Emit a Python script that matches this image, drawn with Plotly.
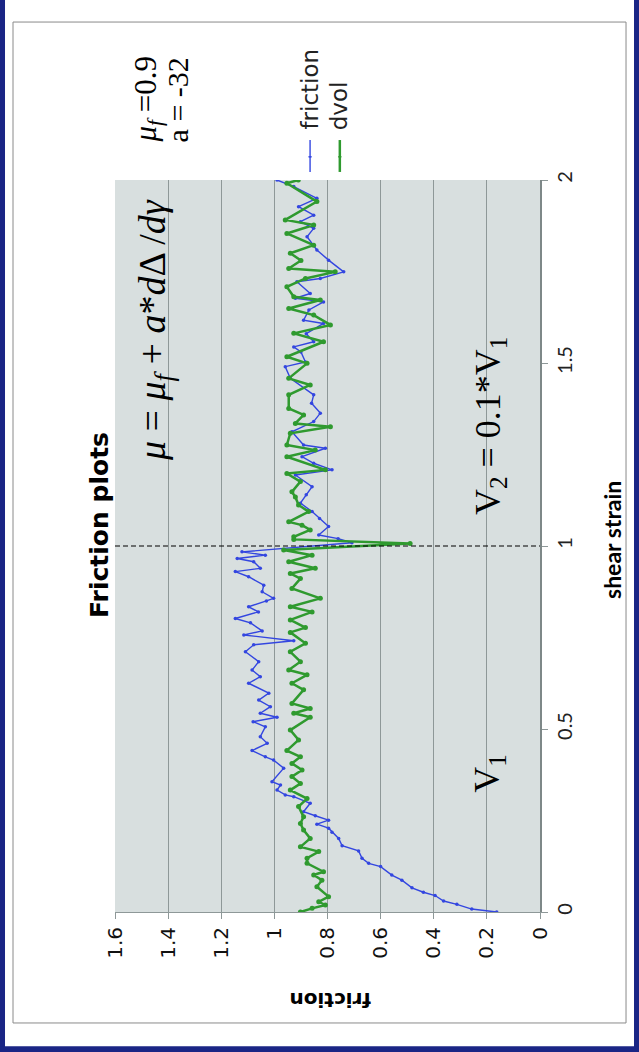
import plotly.graph_objects as go

# ---- data ----
strain_friction = [0.000, 0.008, 0.021, 0.030, 0.045, 0.054, 0.066, 0.087, 0.101, 0.124,
                   0.133, 0.147, 0.167, 0.181, 0.201, 0.218, 0.229, 0.240, 0.251, 0.263,
                   0.274, 0.297, 0.315, 0.320, 0.333, 0.347, 0.356, 0.393, 0.415, 0.424,
                   0.441, 0.461, 0.479, 0.506, 0.520, 0.532, 0.543, 0.561, 0.579, 0.598,
                   0.625, 0.643, 0.661, 0.684, 0.711, 0.730, 0.741, 0.757, 0.768, 0.790,
                   0.802, 0.820, 0.834, 0.850, 0.857, 0.875, 0.893, 0.916, 0.930, 0.939,
                   0.957, 0.966, 0.975, 0.984, 1.009, 1.020, 1.030, 1.053, 1.075, 1.094,
                   1.117, 1.140, 1.162, 1.194, 1.208, 1.226, 1.244, 1.267, 1.276, 1.312,
                   1.340, 1.363, 1.390, 1.413, 1.458, 1.490, 1.503, 1.530, 1.544, 1.558,
                   1.580, 1.608, 1.617, 1.645, 1.667, 1.677, 1.690, 1.722, 1.731, 1.749,
                   1.781, 1.809, 1.845, 1.868, 1.886, 1.904, 1.927, 1.950, 1.982, 2.000]
friction_vals = [0.163, 0.257, 0.313, 0.363, 0.395, 0.439, 0.482, 0.520, 0.558, 0.600,
                 0.645, 0.670, 0.683, 0.745, 0.758, 0.783, 0.796, 0.840, 0.796, 0.846,
                 0.890, 0.865, 0.927, 0.959, 0.990, 0.977, 1.009, 0.965, 1.003, 1.034,
                 1.084, 1.027, 1.053, 1.034, 1.080, 0.990, 1.053, 1.015, 1.059, 1.021,
                 1.097, 1.053, 1.084, 1.059, 1.109, 1.078, 0.927, 1.115, 1.046, 1.090,
                 1.147, 1.060, 1.097, 1.030, 1.003, 1.046, 1.040, 1.097, 1.147, 1.053,
                 1.078, 1.140, 1.034, 1.122, 0.708, 0.760, 0.833, 0.796, 0.830, 0.858,
                 0.902, 0.880, 0.858, 0.921, 0.783, 0.852, 0.896, 0.808, 0.890, 0.934,
                 0.852, 0.827, 0.860, 0.852, 0.940, 0.959, 0.883, 0.900, 0.927, 0.852,
                 0.880, 0.815, 0.890, 0.870, 0.815, 0.921, 0.865, 0.915, 0.827, 0.739,
                 0.796, 0.840, 0.877, 0.852, 0.902, 0.852, 0.909, 0.840, 0.927, 0.990]

strain_dvol = [0.000, 0.010, 0.019, 0.028, 0.042, 0.069, 0.087, 0.101, 0.110, 0.133,
               0.147, 0.165, 0.178, 0.201, 0.224, 0.242, 0.260, 0.288, 0.310, 0.333,
               0.351, 0.370, 0.388, 0.406, 0.424, 0.441, 0.470, 0.497, 0.532, 0.543,
               0.556, 0.570, 0.607, 0.625, 0.648, 0.661, 0.684, 0.711, 0.734, 0.764,
               0.777, 0.798, 0.820, 0.834, 0.857, 0.884, 0.911, 0.925, 0.939, 0.957,
               0.975, 0.989, 1.007, 1.018, 1.025, 1.044, 1.057, 1.066, 1.094, 1.112,
               1.134, 1.148, 1.176, 1.198, 1.208, 1.244, 1.262, 1.276, 1.308, 1.326,
               1.335, 1.358, 1.376, 1.413, 1.440, 1.458, 1.499, 1.517, 1.558, 1.581,
               1.604, 1.631, 1.649, 1.672, 1.681, 1.708, 1.731, 1.749, 1.758, 1.780,
               1.800, 1.822, 1.854, 1.877, 1.891, 1.941, 1.991, 2.000]
dvol_vals = [0.902, 0.858, 0.808, 0.833, 0.796, 0.840, 0.821, 0.852, 0.815, 0.877,
             0.877, 0.833, 0.902, 0.865, 0.890, 0.902, 0.890, 0.909, 0.877, 0.940,
             0.902, 0.934, 0.896, 0.934, 0.902, 0.953, 0.909, 0.940, 0.865, 0.927,
             0.865, 0.934, 0.890, 0.934, 0.877, 0.946, 0.902, 0.940, 0.883, 0.940,
             0.883, 0.940, 0.858, 0.940, 0.827, 0.934, 0.902, 0.940, 0.846, 0.946,
             0.858, 0.965, 0.489, 0.927, 0.927, 0.865, 0.896, 0.946, 0.871, 0.909,
             0.921, 0.934, 0.902, 0.953, 0.808, 0.953, 0.846, 0.953, 0.940, 0.789,
             0.921, 0.890, 0.946, 0.946, 0.865, 0.946, 0.877, 0.953, 0.815, 0.927,
             0.789, 0.852, 0.946, 0.827, 0.927, 0.953, 0.883, 0.771, 0.946, 0.900,
             0.940, 0.852, 0.953, 0.852, 0.959, 0.840, 0.953, 0.910]

friction_ticks = [0, 0.2, 0.4, 0.6, 0.8, 1, 1.2, 1.4, 1.6]
friction_tick_labels = ["0", "0.2", "0.4", "0.6", "0.8", "1", "1.2", "1.4", "1.6"]
strain_ticks = [0, 0.5, 1, 1.5, 2]
strain_tick_labels = ["0", "0.5", "1", "1.5", "2"]

BLUE = "#3346e0"
GREEN = "#2f9a2f"
NAVY = "#1a2585"

# chart is drawn rotated 90 deg counter-clockwise: friction runs horizontally, strain vertically
fig = go.Figure()
fig.add_trace(go.Scatter(x=friction_vals, y=strain_friction, mode="lines+markers",
                         name="friction", line=dict(color=BLUE, width=1.4),
                         marker=dict(color=BLUE, size=3.5)))
fig.add_trace(go.Scatter(x=dvol_vals, y=strain_dvol, mode="lines+markers",
                         name="dvol", line=dict(color=GREEN, width=2.5),
                         marker=dict(color=GREEN, size=5)))

shapes = []
# dashed line at strain = 1
shapes.append(dict(type="line", xref="paper", yref="y", x0=0, x1=1, y0=1, y1=1,
                   line=dict(color="black", width=1.2, dash="5px,3px")))
# inner gray frame
shapes.append(dict(type="rect", xref="paper", yref="paper", x0=-0.24, x1=1.2024,
                   y0=-0.1516, y1=1.2158, line=dict(color="#8a8a8a", width=1)))
# navy outer border (left, right, bottom)
shapes.append(dict(type="rect", xref="paper", yref="paper", x0=-0.2706, x1=-0.2588,
                   y0=-0.192, y1=1.247, line=dict(width=0), fillcolor=NAVY))
shapes.append(dict(type="rect", xref="paper", yref="paper", x0=1.2212, x1=1.234,
                   y0=-0.192, y1=1.247, line=dict(width=0), fillcolor=NAVY))
shapes.append(dict(type="rect", xref="paper", yref="paper", x0=-0.2706, x1=1.234,
                   y0=-0.192, y1=-0.1835, line=dict(width=0), fillcolor=NAVY))
# legend symbols (rotated legend)
for xc, col, lw in [(0.459, BLUE, 1.4), (0.529, GREEN, 2.5)]:
    shapes.append(dict(type="line", xref="paper", yref="paper", x0=xc, x1=xc,
                       y0=1.011, y1=1.0546, line=dict(color=col, width=lw)))
    shapes.append(dict(type="circle", xref="paper", yref="paper",
                       x0=xc - 0.0045, x1=xc + 0.0045, y0=1.0303, y1=1.0329,
                       line=dict(color=col, width=0), fillcolor=col))

serif = "Liberation Serif"


def ann(text, x, y, size, family, angle=-90, xa="center", ya="middle", color="black"):
    return dict(text=text, x=x, y=y, xref="paper", yref="paper", xanchor=xa, yanchor=ya,
                textangle=angle, showarrow=False,
                font=dict(family=family, size=size, color=color))


annotations = [
    ann("<b>Friction plots</b>", -0.035, 0.529, 25, "DejaVu Sans"),
    ann("<b>shear strain</b>", 1.169, 0.508, 23, "Lato"),
    ann("<b>friction</b>", 0.506, -0.12, 20, "DejaVu Sans", angle=180),
    ann("friction", 0.459, 1.0656, 23, "DejaVu Sans", ya="bottom", color="#222"),
    ann("dvol", 0.529, 1.0656, 23, "DejaVu Sans", ya="bottom", color="#222"),
    ann("<i>μ<sub>f</sub></i> =0.9", 0.078, 1.048, 31, serif, ya="bottom"),
    ann("a = -32", 0.146, 1.048, 30, serif, ya="bottom"),
    ann("<i>μ</i> = <i>μ<sub>f</sub></i> + <i>a</i>*<i>d</i>Δ /<i>dγ</i>", 0.094, 0.795, 38, serif),
    ann("V<sub>2</sub> = 0.1*V<sub>1</sub>", 0.882, 0.665, 36, serif),
    ann("V<sub>1</sub>", 0.882, 0.19, 36, serif),
]

fig.update_layout(
    width=639, height=1052,
    margin=dict(l=115, r=99, t=180, b=140),
    paper_bgcolor="white", plot_bgcolor="#d8dfdf",
    showlegend=False,
    shapes=shapes, annotations=annotations,
    xaxis=dict(range=[1.6, 0], tickvals=friction_ticks, ticktext=friction_tick_labels,
               tickangle=-90, showgrid=True, gridcolor="#8e9898", gridwidth=1,
               zeroline=False, showline=True, linecolor="#8e9898", linewidth=1,
               ticks="outside", ticklen=6, tickcolor="#8e9898",
               tickfont=dict(family="DejaVu Sans", size=20, color="#111")),
    yaxis=dict(range=[0, 2], side="right", tickvals=strain_ticks, ticktext=strain_tick_labels,
               tickangle=-90, showgrid=False, zeroline=False, showline=True,
               linecolor="#7e8888", linewidth=1.5, ticks="outside", ticklen=6,
               tickcolor="#8e9898",
               tickfont=dict(family="Lato", size=20, color="#222")),
)

fig.write_html("out.html")
